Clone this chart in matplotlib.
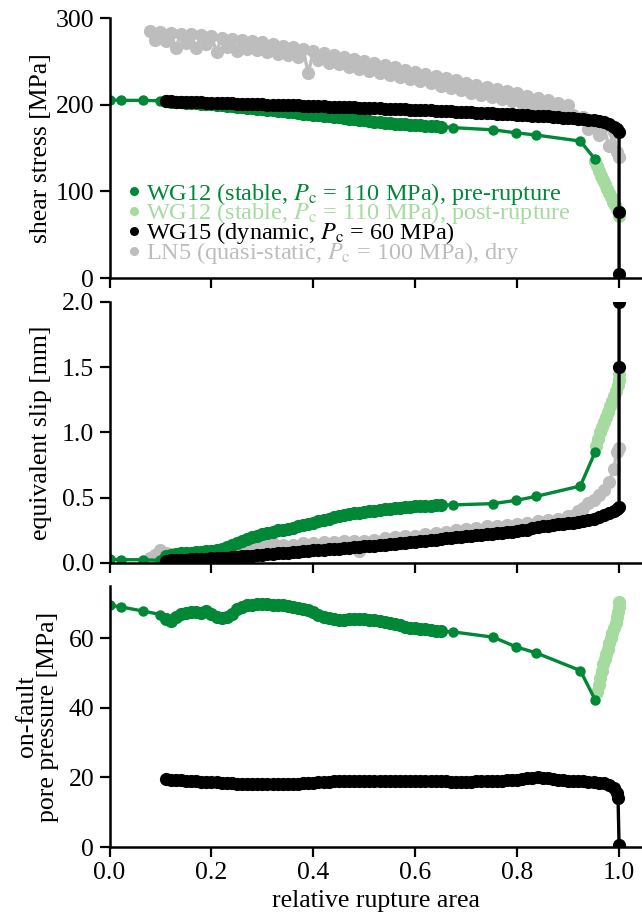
import matplotlib.pyplot as plt
from matplotlib.lines import Line2D

plt.rcParams['font.family'] = ['Liberation Serif', 'DejaVu Serif']
plt.rcParams['mathtext.fontset'] = 'stix'
plt.rcParams['font.size'] = 17

# colours
c_pre = '#008837'
c_post = '#a6dba0'
c_dyn = '#000000'
c_dry = '#bdbdbd'

labels = [r'WG12 (stable, $P_\mathrm{c}$ = 110 MPa), pre-rupture',
          r'WG12 (stable, $P_\mathrm{c}$ = 110 MPa), post-rupture',
          r'WG15 (dynamic, $P_\mathrm{c}$ = 60 MPa)',
          r'LN5 (quasi-static, $P_\mathrm{c}$ = 100 MPa), dry']

# ---- WG12 pre-rupture (dark green); samples 4..58 are the densely logged part
wg12_x = [0.0, 0.022, 0.066, 0.10,
          0.11, 0.12, 0.13, 0.14, 0.15, 0.16, 0.17, 0.18, 0.19, 0.20,
          0.21, 0.22, 0.23, 0.24, 0.25, 0.26, 0.27, 0.28, 0.29, 0.30,
          0.31, 0.32, 0.33, 0.34, 0.35, 0.36, 0.37, 0.38, 0.39, 0.40,
          0.41, 0.42, 0.43, 0.44, 0.45, 0.46, 0.47, 0.48, 0.49, 0.50,
          0.51, 0.52, 0.53, 0.54, 0.55, 0.56, 0.57, 0.58, 0.59, 0.60,
          0.61, 0.62, 0.63, 0.64, 0.65,
          0.675, 0.753, 0.798, 0.837, 0.924, 0.953]
wg12_stress = [205.5, 205, 205, 204.5,
               204, 203.6, 203.2, 202.8, 202.4, 202, 201.6, 201.2, 200.8, 200.3,
               199.8, 199.3, 198.8, 198.2, 197.6, 197.0, 196.4, 195.8, 195.2, 194.6,
               194.0, 193.4, 192.8, 192.2, 191.6, 191.0, 190.4, 189.8, 189.2, 188.6,
               188.0, 187.4, 186.7, 186.0, 185.3, 184.6, 183.9, 183.2, 182.5, 181.8,
               181.2, 180.6, 180.0, 179.4, 178.8, 178.2, 177.7, 177.2, 176.8, 176.4,
               176.0, 175.7, 175.4, 175.1, 174.8,
               173.5, 171, 167.5, 165, 158, 137]
wg12_slip = [0.03, 0.025, 0.025, 0.02,
             0.05, 0.065, 0.07, 0.075, 0.078, 0.08, 0.082, 0.085, 0.09, 0.095,
             0.10, 0.11, 0.125, 0.14, 0.155, 0.17, 0.185, 0.20, 0.21, 0.22,
             0.23, 0.24, 0.25, 0.255, 0.26, 0.27, 0.28, 0.29, 0.30, 0.31,
             0.32, 0.33, 0.34, 0.35, 0.36, 0.37, 0.375, 0.38, 0.385, 0.39,
             0.395, 0.40, 0.405, 0.41, 0.415, 0.42, 0.425, 0.428, 0.431, 0.434,
             0.436, 0.438, 0.44, 0.442, 0.444,
             0.445, 0.455, 0.48, 0.51, 0.59, 0.85]
wg12_pf = [69.5, 69, 67.8, 66.8,
           65.5, 65.0, 66.0, 67.0, 67.3, 67.4, 67.4, 67.3, 67.8, 67.0,
           66.0, 65.8, 66.0, 67.0, 68.3, 69.0, 69.4, 69.6, 69.7, 69.7,
           69.7, 69.6, 69.5, 69.4, 69.2, 69.0, 68.8, 68.5, 68.0, 67.4,
           66.8, 66.2, 65.7, 65.4, 65.3, 65.3, 65.4, 65.5, 65.5, 65.4,
           65.3, 65.1, 65.0, 64.7, 64.4, 64.1, 63.7, 63.3, 63.0, 62.8,
           62.7, 62.6, 62.4, 62.2, 62.0,
           61.8, 60.3, 57.5, 55.8, 50.7, 42.3]
dense = slice(4, 59)

# ---- WG12 post-rupture (light green)
post_x_stress = [0.953, 0.956, 0.96, 0.964, 0.968, 0.972, 0.976, 0.98, 0.984, 0.988, 0.992, 0.996, 1.0, 1.0]
post_stress = [135, 129, 124, 118, 113, 108, 103, 98, 93, 88, 84, 80, 76, 72]
post_x_slip = [0.955, 0.958, 0.962, 0.966, 0.97, 0.974, 0.978, 0.982, 0.986, 0.99, 0.994, 0.997, 1.0, 1.0]
post_slip = [0.90, 0.95, 1.0, 1.04, 1.08, 1.12, 1.16, 1.2, 1.24, 1.28, 1.32, 1.36, 1.40, 1.45]
post_x_pf = [0.957, 0.96, 0.963, 0.966, 0.969, 0.972, 0.975, 0.978, 0.981, 0.984, 0.987, 0.99, 0.993, 0.996, 0.998, 1.0, 1.0]
post_pf = [44.5, 46.5, 48.5, 50.5, 52.5, 54, 55.5, 57, 58.5, 60, 61.5, 63, 64.5, 66, 67.5, 69, 70.5]

# ---- WG15 dynamic (black)
wg15_x = [0.11, 0.12, 0.13, 0.14, 0.15, 0.16, 0.17, 0.18, 0.19, 0.20,
          0.21, 0.22, 0.23, 0.24, 0.25, 0.26, 0.27, 0.28, 0.29, 0.30,
          0.31, 0.32, 0.33, 0.34, 0.35, 0.36, 0.37, 0.38, 0.39, 0.40,
          0.41, 0.42, 0.43, 0.44, 0.45, 0.46, 0.47, 0.48, 0.49, 0.50,
          0.51, 0.52, 0.53, 0.54, 0.55, 0.56, 0.57, 0.58, 0.59, 0.60,
          0.61, 0.62, 0.63, 0.64, 0.65, 0.66, 0.67, 0.68, 0.69, 0.70,
          0.71, 0.72, 0.73, 0.74, 0.75, 0.76, 0.77, 0.78, 0.79, 0.80,
          0.81, 0.82, 0.83, 0.84, 0.85, 0.86, 0.87, 0.88, 0.89, 0.90,
          0.91, 0.92, 0.93, 0.94, 0.95, 0.96, 0.97, 0.98, 0.99]
wg15_stress = [204.0, 203.8, 203.6, 203.5, 203.2, 203.0, 202.8, 202.6, 202.3, 202.1,
               201.9, 201.8, 201.6, 201.4, 201.3, 201.1, 200.9, 200.8, 200.6, 200.4,
               200.2, 200.0, 199.8, 199.6, 199.5, 199.3, 199.1, 198.9, 198.7, 198.5,
               198.3, 198.1, 197.9, 197.7, 197.5, 197.3, 197.1, 196.9, 196.7, 196.5,
               196.3, 196.0, 195.8, 195.5, 195.3, 195.1, 194.8, 194.6, 194.3, 194.1,
               193.8, 193.6, 193.3, 193.1, 192.8, 192.6, 192.3, 192.0, 191.8, 191.5,
               191.2, 190.9, 190.6, 190.3, 190.0, 189.7, 189.4, 189.1, 188.8, 188.5,
               188.2, 187.8, 187.5, 187.1, 186.8, 186.4, 186.0, 185.6, 185.2, 184.8,
               184.4, 183.9, 183.4, 182.8, 182.1, 181.2, 179.9, 177.9, 174.8]
wg15_slip = [0.018, 0.020, 0.022, 0.024, 0.026, 0.028, 0.030, 0.032, 0.034, 0.036,
             0.038, 0.040, 0.042, 0.045, 0.048, 0.051, 0.054, 0.057, 0.060, 0.064,
             0.067, 0.070, 0.073, 0.076, 0.079, 0.082, 0.086, 0.089, 0.092, 0.096,
             0.099, 0.102, 0.105, 0.108, 0.111, 0.114, 0.117, 0.121, 0.124, 0.127,
             0.130, 0.134, 0.137, 0.141, 0.144, 0.148, 0.152, 0.156, 0.160, 0.164,
             0.168, 0.172, 0.176, 0.180, 0.184, 0.188, 0.192, 0.196, 0.200, 0.204,
             0.208, 0.212, 0.216, 0.220, 0.224, 0.228, 0.232, 0.236, 0.240, 0.245,
             0.250, 0.256, 0.268, 0.275, 0.280, 0.285, 0.290, 0.295, 0.300, 0.305,
             0.310, 0.316, 0.322, 0.328, 0.340, 0.355, 0.370, 0.385, 0.400]
wg15_pf = [19.5, 19.4, 19.3, 19.2, 19.1, 19.0, 18.9, 18.8, 18.8, 18.7,
           18.6, 18.5, 18.4, 18.3, 18.2, 18.1, 18.1, 18.0, 18.0, 18.0,
           18.0, 18.0, 18.0, 18.1, 18.1, 18.2, 18.2, 18.3, 18.4, 18.5,
           18.6, 18.7, 18.8, 18.9, 19.0, 19.0, 19.1, 19.1, 19.1, 19.1,
           19.1, 19.1, 19.1, 19.1, 19.1, 19.1, 19.1, 19.1, 19.0, 19.0,
           19.0, 19.0, 18.9, 18.9, 18.9, 18.9, 18.8, 18.8, 18.8, 18.8,
           18.8, 18.9, 18.9, 19.0, 19.0, 19.1, 19.1, 19.2, 19.3, 19.4,
           19.5, 19.7, 19.9, 20.0, 19.9, 19.7, 19.5, 19.3, 19.2, 19.1,
           19.0, 18.9, 18.9, 18.8, 18.7, 18.5, 18.3, 17.8, 17.0]
# rupture end of WG15 (vertical drop / jump at full area)
wg15_end_x_stress = [0.995, 1.0, 1.0, 1.0]
wg15_end_stress = [171.5, 168, 76, 5]
wg15_end_x_slip = [0.995, 1.0, 1.0, 1.0]
wg15_end_slip = [0.415, 0.43, 1.5, 2.0]
wg15_end_x_pf = [0.995, 0.998, 1.0]
wg15_end_pf = [15.5, 14.0, 0.5]

# ---- LN5 dry (grey)
ln5_x = [0.08, 0.09, 0.10, 0.11, 0.12, 0.13, 0.14, 0.15, 0.16, 0.17,
         0.18, 0.19, 0.20, 0.21, 0.22, 0.23, 0.24, 0.25, 0.26, 0.27,
         0.28, 0.29, 0.30, 0.31, 0.32, 0.33, 0.34, 0.35, 0.36, 0.37,
         0.38, 0.39, 0.40, 0.41, 0.42, 0.43, 0.44, 0.45, 0.46, 0.47,
         0.48, 0.49, 0.50, 0.51, 0.52, 0.53, 0.54, 0.55, 0.56, 0.57,
         0.58, 0.59, 0.60, 0.61, 0.62, 0.63, 0.64, 0.65, 0.66, 0.67,
         0.68, 0.69, 0.70, 0.71, 0.72, 0.73, 0.74, 0.75, 0.76, 0.77,
         0.78, 0.79, 0.80, 0.81, 0.82, 0.83, 0.84, 0.85, 0.86, 0.87,
         0.88, 0.89, 0.90, 0.91, 0.92, 0.93, 0.94, 0.95, 0.96, 0.97,
         0.98, 0.99, 0.995, 1.0]
ln5_stress = [285, 274.5, 284, 273.5, 283, 265.5, 282, 271.5, 281, 265.5,
              280, 269.5, 279, 261, 277.5, 267, 276, 262.5, 275, 264,
              273.5, 263, 272, 261, 270, 259, 268, 257, 266, 255,
              264, 236, 262, 251, 260, 248.5, 257.5, 246.5, 255, 244,
              253, 241.5, 250.5, 239, 248, 237, 245.5, 234.5, 243, 232,
              240.5, 229.5, 238, 227, 235.5, 224.5, 233, 222, 230.5, 219.5,
              228, 217, 225.5, 214, 223, 211.5, 220.5, 209, 218, 206.5,
              215.5, 204, 213, 201.5, 210.5, 199, 208, 196.5, 205, 194,
              202.5, 191, 199.5, 188, 183, 186, 172, 180, 165, 175,
              152, 168, 145, 140]
ln5_slip = [0.04, 0.06, 0.10, 0.08, 0.07, 0.06, 0.07, 0.06, 0.07, 0.06,
            0.07, 0.06, 0.07, 0.08, 0.07, 0.09, 0.10, 0.11, 0.13, 0.12,
            0.14, 0.13, 0.16, 0.13, 0.15, 0.12, 0.14, 0.12, 0.14, 0.12,
            0.15, 0.13, 0.15, 0.12, 0.16, 0.13, 0.16, 0.13, 0.17, 0.14,
            0.17, 0.09, 0.17, 0.14, 0.18, 0.15, 0.19, 0.16, 0.20, 0.17,
            0.21, 0.18, 0.21, 0.19, 0.22, 0.20, 0.23, 0.21, 0.24, 0.22,
            0.25, 0.23, 0.26, 0.24, 0.27, 0.25, 0.28, 0.26, 0.28, 0.27,
            0.29, 0.27, 0.30, 0.28, 0.31, 0.29, 0.32, 0.30, 0.33, 0.31,
            0.34, 0.33, 0.36, 0.36, 0.40, 0.42, 0.46, 0.48, 0.52, 0.56,
            0.62, 0.72, 0.85, 0.88]

fig = plt.figure(figsize=(6.42, 9.24), dpi=100)
left, width = 0.1706, 0.8294
ax1 = fig.add_axes([left, 0.6991, width, 0.2814])
ax2 = fig.add_axes([left, 0.3907, width, 0.2825])
ax3 = fig.add_axes([left, 0.0833, width, 0.2825])

big = dict(marker='o', ms=9.5, lw=2.4, mew=0)


def draw_wg12(ax, y):
    # sparse samples with normal dots, densely logged stretch with bigger dots
    ax.plot(wg12_x, y, color=c_pre, marker='o', ms=7.5, lw=2.4, mew=0)
    ax.plot(wg12_x[dense], y[dense], color=c_pre, marker='o', ms=9.5, ls='none', mew=0)


# shear stress
ax1.plot(ln5_x, ln5_stress, color=c_dry, **big)
ax1.plot(post_x_stress, post_stress, color=c_post, **big)
draw_wg12(ax1, wg12_stress)
ax1.plot(wg15_x + wg15_end_x_stress, wg15_stress + wg15_end_stress, color=c_dyn, **big)

# equivalent slip
ax2.plot(ln5_x, ln5_slip, color=c_dry, **big)
ax2.plot(post_x_slip, post_slip, color=c_post, **big)
draw_wg12(ax2, wg12_slip)
ax2.plot(wg15_x + wg15_end_x_slip, wg15_slip + wg15_end_slip, color=c_dyn, **big)

# pore pressure
ax3.plot(post_x_pf, post_pf, color=c_post, **big)
draw_wg12(ax3, wg12_pf)
ax3.plot(wg15_x + wg15_end_x_pf, wg15_pf + wg15_end_pf, color=c_dyn, **big)

lab = 18.5
ax1.set_ylim(0, 300)
ax1.set_yticks([0, 100, 200, 300])
ax1.set_ylabel('shear stress [MPa]', fontsize=lab)
ax2.set_ylim(0, 2.0)
ax2.set_yticks([0.0, 0.5, 1.0, 1.5, 2.0])
ax2.set_yticklabels(['0.0', '0.5', '1.0', '1.5', '2.0'])
ax2.set_ylabel('equivalent slip [mm]', fontsize=lab)
ax3.set_ylim(0, 75)
ax3.set_yticks([0, 20, 40, 60])
ax3.set_ylabel('on-fault\npore pressure [MPa]', fontsize=lab, linespacing=0.95)
ax3.set_xlabel('relative rupture area', fontsize=lab)

for ax in (ax1, ax2, ax3):
    ax.set_xlim(0, 1.045)
    ax.set_xticks([0.0, 0.2, 0.4, 0.6, 0.8, 1.0])
    ax.spines['top'].set_visible(False)
    ax.spines['right'].set_visible(False)
    ax.spines['left'].set_linewidth(1.8)
    ax.spines['bottom'].set_linewidth(1.8)
    ax.tick_params(direction='out', length=7, width=1.6, labelsize=18.5, pad=4)
for ax in (ax1, ax2):
    ax.tick_params(labelbottom=False)
ax3.set_xticklabels(['0.0', '0.2', '0.4', '0.6', '0.8', '1.0'])
ax1.yaxis.set_label_coords(-0.108, 0.5)
ax2.yaxis.set_label_coords(-0.108, 0.5)
ax3.yaxis.set_label_coords(-0.095, 0.5)

handles = [Line2D([], [], marker='o', ls='none', color=c, ms=6.5, mew=0)
           for c in (c_pre, c_post, c_dyn, c_dry)]
leg = ax1.legend(handles, labels, loc='lower left', bbox_to_anchor=(0.035, 0.045),
                 frameon=False, fontsize=17.5, handlelength=0.5, handletextpad=0.25,
                 labelspacing=-0.25, borderaxespad=0, borderpad=0)
for txt, c in zip(leg.get_texts(), (c_pre, c_post, c_dyn, c_dry)):
    txt.set_color(c)

fig.savefig('out.png', dpi=100)
